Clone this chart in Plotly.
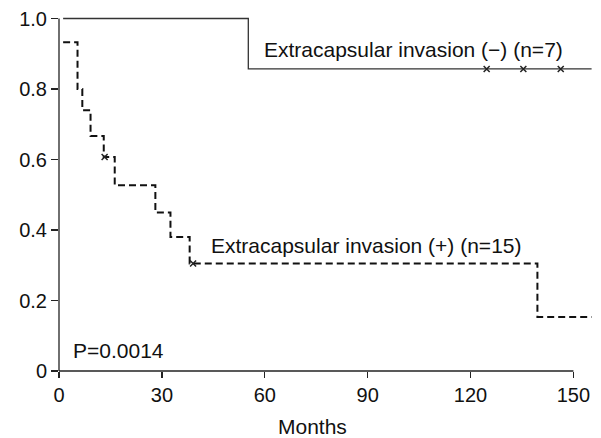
import plotly.graph_objects as go

# Kaplan-Meier step data (months, survival)
neg_times = [1.2, 55.2, 155.3]
neg_surv = [1.0, 0.857, 0.857]
neg_cens_t = [124.7, 135.4, 146.3]
neg_cens_s = [0.857, 0.857, 0.857]

pos_times = [1.2, 5.4, 6.8, 9.2, 13.05, 16.25, 28.1, 32.5, 38.1, 139.5, 155.3]
pos_surv = [0.933, 0.8, 0.74, 0.667, 0.607, 0.527, 0.45, 0.38, 0.305, 0.153, 0.153]
pos_cens_t = [13.3, 39.1]
pos_cens_s = [0.607, 0.305]

x_ticks = [0, 30, 60, 90, 120, 150]
y_ticks = [0, 0.2, 0.4, 0.6, 0.8, 1.0]
y_ticklabels = ["0", "0.2", "0.4", "0.6", "0.8", "1.0"]

label_neg = "Extracapsular invasion (\u2212) (n=7)"
label_pos = "Extracapsular invasion (+) (n=15)"
p_text = "P=0.0014"
x_title = "Months"

XR = [0, 156]
YR = [0, 1.01]
FONT = "Liberation Sans, Arial, sans-serif"
ink = "#222222"

fig = go.Figure()
fig.add_trace(go.Scatter(x=neg_times, y=neg_surv, mode="lines", line_shape="hv",
                         line=dict(color="#333333", width=1.3), showlegend=False))
fig.add_trace(go.Scatter(x=neg_cens_t, y=neg_cens_s, mode="markers",
                         marker=dict(symbol="x-thin", size=6, line=dict(color="#222", width=1.5)),
                         showlegend=False))
fig.add_trace(go.Scatter(x=pos_times, y=pos_surv, mode="lines", line_shape="hv",
                         line=dict(color="#111111", width=2, dash="7px,4px"), showlegend=False))
fig.add_trace(go.Scatter(x=pos_cens_t, y=pos_cens_s, mode="markers",
                         marker=dict(symbol="x-thin", size=6, line=dict(color="#222", width=1.5)),
                         showlegend=False))

# axis lines (x axis only to 150, y axis only to 1.0)
fig.add_shape(type="line", xref="paper", yref="paper", x0=0, x1=150 / XR[1], y0=0, y1=0,
              line=dict(color=ink, width=1.3))
fig.add_shape(type="line", xref="paper", yref="paper", x0=0, x1=0, y0=0, y1=1.0 / YR[1],
              line=dict(color=ink, width=1.3))

fig.add_annotation(x=59.1, y=0.911, text=label_neg, showarrow=False, xanchor="left",
                   yanchor="middle", font=dict(size=21, color="#111", family=FONT))
fig.add_annotation(x=43.7, y=0.356, text=label_pos, showarrow=False, xanchor="left",
                   yanchor="middle", font=dict(size=21, color="#111", family=FONT))
fig.add_annotation(x=3.6, y=0.057, text=p_text, showarrow=False, xanchor="left",
                   yanchor="middle", font=dict(size=21, color="#111", family=FONT))
fig.add_annotation(x=73.8, xref="x", y=-0.1545, yref="paper", text=x_title, showarrow=False,
                   xanchor="center", yanchor="middle", font=dict(size=21, color="#111", family=FONT))

fig.update_xaxes(range=XR, tickvals=x_ticks, ticks="outside", ticklen=6, tickwidth=1.3,
                 tickcolor=ink, showline=False, showgrid=False, zeroline=False, automargin=False,
                 tickfont=dict(size=20, color="#111", family=FONT))
fig.update_yaxes(range=YR, tickvals=y_ticks, ticktext=y_ticklabels, ticks="outside", ticklen=7,
                 tickwidth=1.3, tickcolor=ink, showline=False, showgrid=False, zeroline=False,
                 automargin=False, tickfont=dict(size=20, color="#111", family=FONT))

fig.update_layout(width=601, height=438, margin=dict(l=59, r=7, t=15, b=67, autoexpand=False),
                  plot_bgcolor="white", paper_bgcolor="white", hovermode=False)

fig.write_html("out.html", config={"displayModeBar": False, "staticPlot": True},
               post_script="document.body.style.margin='0';document.body.style.overflow='hidden';")
